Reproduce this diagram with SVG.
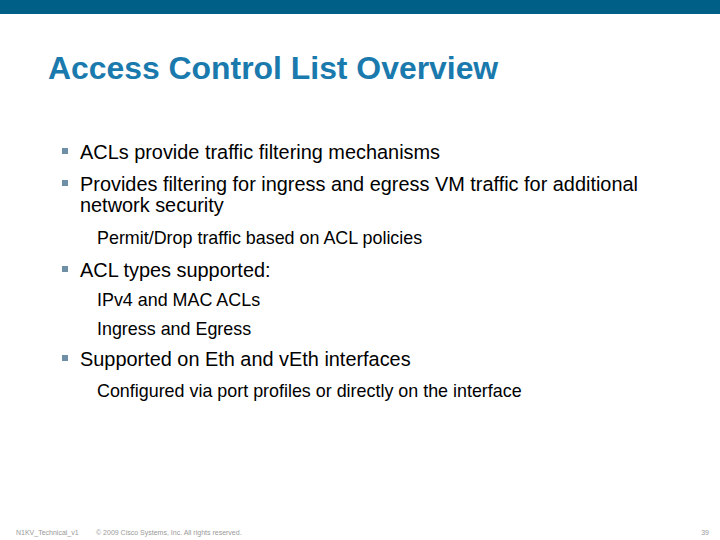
<svg xmlns="http://www.w3.org/2000/svg" width="720" height="540" viewBox="0 0 720 540">
<style>
.t{font-family:"Liberation Sans",Arial,sans-serif;fill:#000}
.b{font-size:19.9px}.s{font-size:17.9px}.f{font-size:7px;fill:#999}
.m{fill:#6e8fa6}
</style>
<rect width="720" height="540" fill="#fff"/>
<rect width="720" height="14" fill="#005f87"/>
<text x="48" y="79" font-family="Liberation Sans,Arial,sans-serif" font-weight="bold" font-size="31.9" fill="#1a7aad">Access Control List Overview</text>
<g class="t">
<rect class="m" x="62" y="148" width="6" height="6"/>
<text class="t b" x="80" y="159">ACLs provide traffic filtering mechanisms</text>
<rect class="m" x="62" y="180" width="6" height="6"/>
<text class="t b" x="80" y="191">Provides filtering for ingress and egress VM traffic for additional</text>
<text class="t b" x="80" y="212">network security</text>
<text class="t s" x="97" y="244">Permit/Drop traffic based on ACL policies</text>
<rect class="m" x="62" y="266" width="6" height="6"/>
<text class="t b" x="80" y="277">ACL types supported:</text>
<text class="t s" x="97" y="306">IPv4 and MAC ACLs</text>
<text class="t s" x="97" y="335">Ingress and Egress</text>
<rect class="m" x="62" y="355" width="6" height="6"/>
<text class="t b" x="80" y="366">Supported on Eth and vEth interfaces</text>
<text class="t s" x="97" y="397">Configured via port profiles or directly on the interface</text>
<text class="t f" x="16" y="535">N1KV_Technical_v1</text>
<text class="t f" x="96" y="535">© 2009 Cisco Systems, Inc. All rights reserved.</text>
<text class="t f" x="709" y="535" text-anchor="end" font-size="9">39</text>
</g>
</svg>
